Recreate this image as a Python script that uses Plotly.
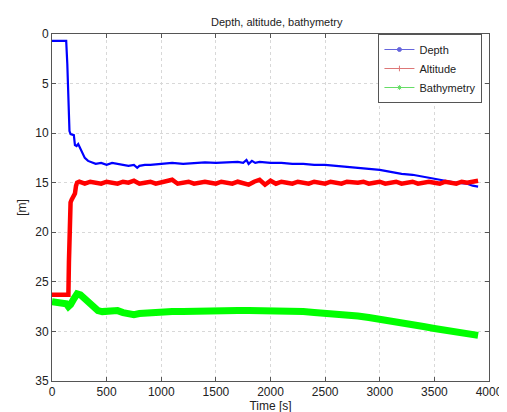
import plotly.graph_objects as go

# ---- data ----
depth_t = [0, 50, 100, 130, 140, 150, 160, 170, 190, 200, 210, 225, 240, 260, 280, 300, 330, 360, 400, 450,
           500, 550, 600, 650, 700, 750, 780, 800, 850, 900, 1000, 1100, 1200, 1300, 1400, 1500, 1600, 1700,
           1750, 1780, 1800, 1830, 1860, 1900, 2000, 2100, 2200, 2300, 2400, 2500, 2600, 2700, 2800, 2900,
           3000, 3100, 3200, 3300, 3400, 3500, 3600, 3700, 3800, 3850, 3900]
depth_v = [0.7, 0.7, 0.7, 0.7, 3.0, 6.0, 9.8, 10.1, 10.2, 10.2, 11.2, 11.3, 11.1, 11.6, 12.1, 12.5, 12.8, 12.9,
           13.1, 13.0, 13.2, 13.0, 13.1, 13.2, 13.3, 13.2, 13.5, 13.3, 13.2, 13.2, 13.1, 13.0, 13.1, 13.0, 12.95,
           13.0, 12.95, 12.9, 13.0, 12.7, 13.1, 12.8, 13.0, 12.9, 13.0, 13.0, 13.1, 13.1, 13.2, 13.2, 13.3, 13.4,
           13.5, 13.6, 13.7, 13.9, 14.1, 14.2, 14.4, 14.6, 14.8, 15.0, 15.1, 15.3, 15.4]

alt_t = [0, 50, 100, 150, 155, 160, 165, 170, 180, 190, 200, 210, 220, 230,
         250, 300, 350, 400, 450, 500, 550, 600, 650, 700, 750, 800, 850, 900, 950, 1000,
         1050, 1100, 1150, 1200, 1250, 1300, 1350, 1400, 1450, 1500, 1550, 1600, 1650, 1700,
         1750, 1800, 1850, 1900, 1950, 2000, 2050, 2100, 2150, 2200, 2250, 2300, 2350, 2400,
         2450, 2500, 2550, 2600, 2650, 2700, 2750, 2800, 2850, 2900, 2950, 3000, 3050, 3100,
         3150, 3200, 3250, 3300, 3350, 3400, 3450, 3500, 3550, 3600, 3650, 3700, 3750, 3800,
         3850, 3900]
alt_v = [26.3, 26.3, 26.3, 26.3, 23.0, 19.0, 17.5, 17.0, 16.7, 16.5, 16.4, 16.1, 15.3, 15.0,
         14.9, 15.1, 14.9, 15.0, 15.1, 14.9, 15.0, 15.1, 14.9, 15.0, 14.8, 15.1, 15.0, 14.9, 15.1, 15.0,
         14.9, 14.7, 15.1, 15.0, 14.9, 15.1, 15.0, 14.9, 15.0, 15.1, 14.9, 15.0, 15.1, 14.9,
         15.0, 15.2, 14.9, 14.7, 15.2, 14.8, 15.1, 14.9, 15.0, 15.1, 14.9, 15.0, 15.1, 14.9,
         15.0, 15.1, 14.9, 15.0, 15.1, 14.9, 15.0, 15.0, 14.9, 15.1, 15.0, 14.9, 15.1, 15.0,
         14.9, 15.1, 15.0, 14.9, 15.1, 15.0, 14.9, 15.0, 15.1, 14.9, 15.0, 15.1, 14.9, 15.0,
         14.9, 14.8]

bathy_t = [0, 50, 100, 130, 150, 170, 200, 230, 260, 290, 320, 350, 380, 420, 460, 500, 550, 600, 650,
           700, 750, 800, 900, 1000, 1100, 1200, 1300, 1400, 1500, 1600, 1700, 1800, 1900, 2000, 2100,
           2200, 2300, 2400, 2500, 2600, 2700, 2800, 2900, 3000, 3100, 3200, 3300, 3400, 3500, 3600,
           3700, 3800, 3900]
bathy_v = [27.0, 27.1, 27.1, 27.2, 27.5, 27.3, 26.7, 26.2, 26.3, 26.6, 27.0, 27.4, 27.7, 27.9, 28.0, 28.0,
           27.9, 27.9, 28.1, 28.2, 28.3, 28.2, 28.1, 28.0, 28.0, 28.0, 27.95, 27.9, 27.9, 27.9, 27.9, 27.9,
           27.9, 27.95, 27.95, 28.0, 28.0, 28.1, 28.15, 28.25, 28.35, 28.45, 28.6, 28.75, 28.9, 29.1, 29.3,
           29.5, 29.7, 29.9, 30.1, 30.25, 30.4]

series_names = ["Depth", "Altitude", "Bathymetry"]
colors = ["#0000ff", "#ff0000", "#00ff00"]
legend_colors = ["#6666dd", "#dd7777", "#66dd66"]
legend_symbols = ["circle", "cross-thin", "asterisk"]

fig = go.Figure()
fig.add_trace(go.Scatter(x=depth_t, y=depth_v, mode="lines", name=series_names[0], showlegend=False,
                         line=dict(color=colors[0], width=2.2)))
fig.add_trace(go.Scatter(x=alt_t, y=alt_v, mode="lines", name=series_names[1], showlegend=False,
                         line=dict(color=colors[1], width=4.5)))
fig.add_trace(go.Scatter(x=bathy_t, y=bathy_v, mode="lines", name=series_names[2], showlegend=False,
                         line=dict(color=colors[2], width=7)))
# legend entries (thin lines with small markers, like the original)
for name, c, s in zip(series_names, legend_colors, legend_symbols):
    fig.add_trace(go.Scatter(x=[None], y=[None], mode="lines+markers", name=name,
                             line=dict(color=c, width=1),
                             marker=dict(color=c, symbol=s, size=4, line=dict(color=c, width=1))))

axis_common = dict(showline=True, linecolor="#555555", linewidth=1, mirror="ticks",
                   ticks="inside", ticklen=4, tickcolor="#555555",
                   showgrid=True, gridcolor="#d8d8d8", griddash="dot", gridwidth=1,
                   zeroline=False, tickfont=dict(size=12, color="#222222"))

fig.update_layout(
    width=507, height=412,
    paper_bgcolor="white", plot_bgcolor="white",
    margin=dict(l=44, r=14, t=26, b=32),
    font=dict(family="Liberation Sans, Arial, sans-serif", size=11, color="#222222"),
    title=dict(text="Depth, altitude, bathymetry", x=0.53, xanchor="center", y=0.975, yanchor="top",
               font=dict(size=11)),
    xaxis=dict(range=[0, 4000], tickvals=list(range(0, 4001, 500)),
               title=dict(text="Time [s]", standoff=0, font=dict(size=12)), **axis_common),
    yaxis=dict(range=[35, 0], tickvals=list(range(0, 36, 5)),
               title=dict(text="[m]", standoff=6, font=dict(size=12)), **axis_common),
    legend=dict(x=0.985, y=1.0, xanchor="right", yanchor="top", bgcolor="white",
                bordercolor="#555555", borderwidth=1, font=dict(size=11),
                tracegroupgap=0, itemwidth=30),
    showlegend=True,
)

fig.write_html("out.html")
